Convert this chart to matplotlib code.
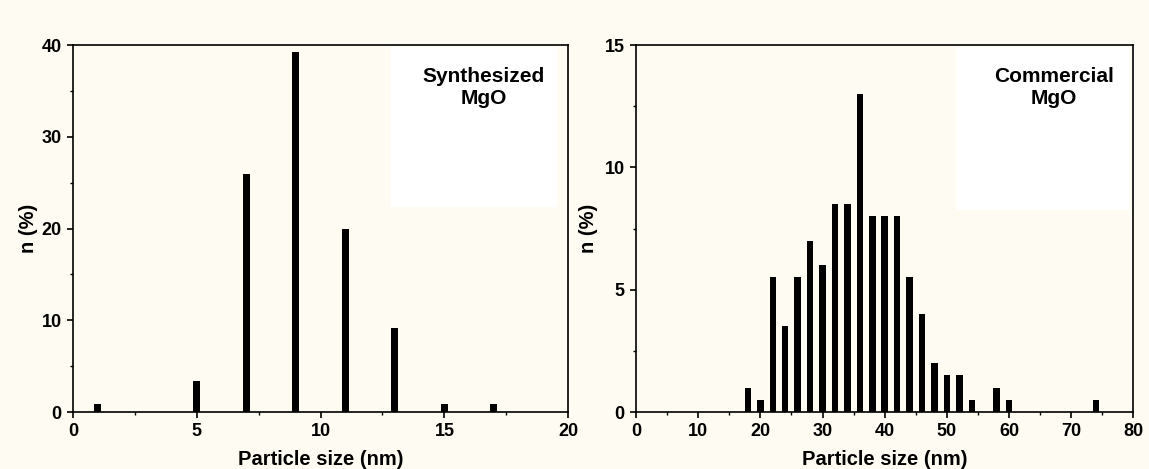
import matplotlib.pyplot as plt
from matplotlib.patches import Rectangle
from matplotlib.ticker import MultipleLocator

# particle size histograms
syn_size = [1, 5, 7, 9, 11, 13, 15, 17]
syn_n = [0.9, 3.4, 25.9, 39.2, 20.0, 9.2, 0.9, 0.9]

com_size = [18, 20, 22, 24, 26, 28, 30, 32, 34, 36, 38, 40, 42, 44, 46, 48,
            50, 52, 54, 58, 60, 74]
com_n = [1.0, 0.5, 5.5, 3.5, 5.5, 7.0, 6.0, 8.5, 8.5, 13.0, 8.0, 8.0, 8.0,
         5.5, 4.0, 2.0, 1.5, 1.5, 0.5, 1.0, 0.5, 0.5]

plt.rcParams['font.family'] = ['Liberation Sans', 'DejaVu Sans']
plt.rcParams['font.weight'] = 'bold'

bg = '#fefcf2'
fig = plt.figure(figsize=[11.49, 4.69], dpi=100, facecolor=bg)

ax1 = fig.add_axes([0.0635, 0.1215, 0.431, 0.7825])
ax2 = fig.add_axes([0.5535, 0.1215, 0.433, 0.7825])


def style(ax, xmax, xmaj, xmin, ymax, ymaj, ymin, ypad):
    ax.set_facecolor(bg)
    ax.set_xlim(0, xmax)
    ax.set_ylim(0, ymax)
    ax.xaxis.set_major_locator(MultipleLocator(xmaj))
    ax.xaxis.set_minor_locator(MultipleLocator(xmin))
    ax.yaxis.set_major_locator(MultipleLocator(ymaj))
    ax.yaxis.set_minor_locator(MultipleLocator(ymin))
    ax.tick_params(which='major', direction='out', length=4, width=1.2,
                   labelsize=13, pad=4, top=False, right=False)
    ax.tick_params(which='minor', direction='out', length=2.5, width=1,
                   top=False, right=False)
    for s in ax.spines.values():
        s.set_linewidth(1.2)
    for lab in ax.get_xticklabels() + ax.get_yticklabels():
        lab.set_fontweight('bold')
    ax.set_xlabel('Particle size (nm)', fontsize=14.5, fontweight='bold', labelpad=7)
    ax.set_ylabel('n (%)', fontsize=14.5, fontweight='bold', labelpad=ypad)


style(ax1, 20, 5, 2.5, 40, 10, 5, 3)
style(ax2, 80, 10, 5, 15, 5, 2.5, 5)

# white boxes behind the labels
ax1.add_patch(Rectangle((0.643, 0.56), 0.335, 0.435, transform=ax1.transAxes,
                        facecolor='white', edgecolor='none', zorder=0.5))
ax2.add_patch(Rectangle((0.645, 0.55), 0.345, 0.445, transform=ax2.transAxes,
                        facecolor='white', edgecolor='none', zorder=0.5))

ax1.bar(syn_size, syn_n, width=0.28, color='black', zorder=2)
ax2.bar(com_size, com_n, width=1.05, color='black', zorder=2)

ax1.text(0.83, 0.885, 'Synthesized\nMgO', transform=ax1.transAxes,
         ha='center', va='center', fontsize=15, fontweight='bold',
         linespacing=1.2)
ax2.text(0.84, 0.885, 'Commercial\nMgO', transform=ax2.transAxes,
         ha='center', va='center', fontsize=15, fontweight='bold',
         linespacing=1.2)

fig.savefig('out.png', dpi=100, facecolor=bg)
